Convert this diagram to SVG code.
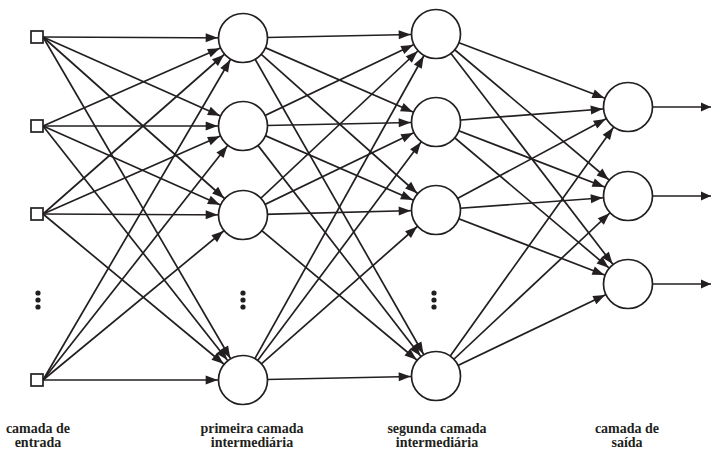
<svg xmlns="http://www.w3.org/2000/svg" width="711" height="450" viewBox="0 0 711 450">
<style>
.c{stroke:#231f20;stroke-width:1.7;fill:none}
.a{marker-end:url(#ah)}
.n{fill:#fff;stroke:#231f20;stroke-width:1.7}
.d{fill:#231f20}
.t{font-family:"Liberation Serif","Times New Roman",serif;font-weight:bold;font-size:14px;fill:#231f20;text-anchor:middle}
</style>
<defs>
<marker id="ah" markerUnits="userSpaceOnUse" markerWidth="13" markerHeight="10" refX="25.3" refY="0" orient="auto" overflow="visible">
<path d="M-12,-4.5 L0,0 L-12,4.5 z" fill="#231f20"/>
</marker>
<marker id="tip" markerUnits="userSpaceOnUse" markerWidth="12" markerHeight="10" refX="0" refY="0" orient="auto" overflow="visible">
<path d="M-10,-4.5 L0,0 L-10,4.5 z" fill="#231f20"/>
</marker>
</defs>
<rect width="711" height="450" fill="#fff"/>
<g id="connectors" class="c">
<path class="a" d="M43,37 L243,38"/>
<path class="a" d="M43,37 L243,126"/>
<path class="a" d="M43,37 L243,215"/>
<path class="a" d="M43,37 L243,380"/>
<path class="a" d="M43,126 L243,38"/>
<path class="a" d="M43,126 L243,126"/>
<path class="a" d="M43,126 L243,215"/>
<path class="a" d="M43,126 L243,380"/>
<path class="a" d="M43,214 L243,38"/>
<path class="a" d="M43,214 L243,126"/>
<path class="a" d="M43,214 L243,215"/>
<path class="a" d="M43,214 L243,380"/>
<path class="a" d="M43,380 L243,38"/>
<path class="a" d="M43,380 L243,126"/>
<path class="a" d="M43,380 L243,215"/>
<path class="a" d="M43,380 L243,380"/>
<path class="a" d="M243,38 L436,34"/>
<path class="a" d="M243,38 L436,122"/>
<path class="a" d="M243,38 L436,210"/>
<path class="a" d="M243,38 L436,376"/>
<path class="a" d="M243,126 L436,34"/>
<path class="a" d="M243,126 L436,122"/>
<path class="a" d="M243,126 L436,210"/>
<path class="a" d="M243,126 L436,376"/>
<path class="a" d="M243,215 L436,34"/>
<path class="a" d="M243,215 L436,122"/>
<path class="a" d="M243,215 L436,210"/>
<path class="a" d="M243,215 L436,376"/>
<path class="a" d="M243,380 L436,34"/>
<path class="a" d="M243,380 L436,122"/>
<path class="a" d="M243,380 L436,210"/>
<path class="a" d="M243,380 L436,376"/>
<path class="a" d="M436,34 L628,107"/>
<path class="a" d="M436,34 L628,196"/>
<path class="a" d="M436,34 L628,284"/>
<path class="a" d="M436,122 L628,107"/>
<path class="a" d="M436,122 L628,196"/>
<path class="a" d="M436,122 L628,284"/>
<path class="a" d="M436,210 L628,107"/>
<path class="a" d="M436,210 L628,196"/>
<path class="a" d="M436,210 L628,284"/>
<path class="a" d="M436,376 L628,107"/>
<path class="a" d="M436,376 L628,196"/>
<path class="a" d="M436,376 L628,284"/>
<path d="M652,107 L711,107" marker-end="url(#tip)"/>
<path d="M652,196 L711,196" marker-end="url(#tip)"/>
<path d="M652,284 L711,284" marker-end="url(#tip)"/>
</g>
<g id="in1"><rect class="n" x="31" y="31" width="12" height="12"/></g>
<g id="in2"><rect class="n" x="31" y="120" width="12" height="12"/></g>
<g id="in3"><rect class="n" x="31" y="208" width="12" height="12"/></g>
<g id="in-dots"><circle class="d" cx="38" cy="293" r="2.6"/><circle class="d" cx="38" cy="300" r="2.6"/><circle class="d" cx="38" cy="307" r="2.6"/></g>
<g id="in4"><rect class="n" x="31" y="374" width="12" height="12"/></g>
<g id="h1a"><circle class="n" cx="243" cy="38" r="24.5"/></g>
<g id="h1b"><circle class="n" cx="243" cy="126" r="24.5"/></g>
<g id="h1c"><circle class="n" cx="243" cy="215" r="24.5"/></g>
<g id="h1-dots"><circle class="d" cx="243" cy="293" r="2.6"/><circle class="d" cx="243" cy="300" r="2.6"/><circle class="d" cx="243" cy="307" r="2.6"/></g>
<g id="h1d"><circle class="n" cx="243" cy="380" r="24.5"/></g>
<g id="h2a"><circle class="n" cx="436" cy="34" r="24.5"/></g>
<g id="h2b"><circle class="n" cx="436" cy="122" r="24.5"/></g>
<g id="h2c"><circle class="n" cx="436" cy="210" r="24.5"/></g>
<g id="h2-dots"><circle class="d" cx="434" cy="293" r="2.6"/><circle class="d" cx="434" cy="300" r="2.6"/><circle class="d" cx="434" cy="307" r="2.6"/></g>
<g id="h2d"><circle class="n" cx="436" cy="376" r="24.5"/></g>
<g id="o1"><circle class="n" cx="628" cy="107" r="24.5"/></g>
<g id="o2"><circle class="n" cx="628" cy="196" r="24.5"/></g>
<g id="o3"><circle class="n" cx="628" cy="284" r="24.5"/></g>
<g id="labels">
<text class="t" x="38" y="433">camada de</text>
<text class="t" x="38" y="447">entrada</text>
<text class="t" x="252" y="433">primeira camada</text>
<text class="t" x="252" y="447">intermediária</text>
<text class="t" x="437" y="433">segunda camada</text>
<text class="t" x="437" y="447">intermediária</text>
<text class="t" x="627" y="433">camada de</text>
<text class="t" x="627" y="447">saída</text>
</g>
</svg>
